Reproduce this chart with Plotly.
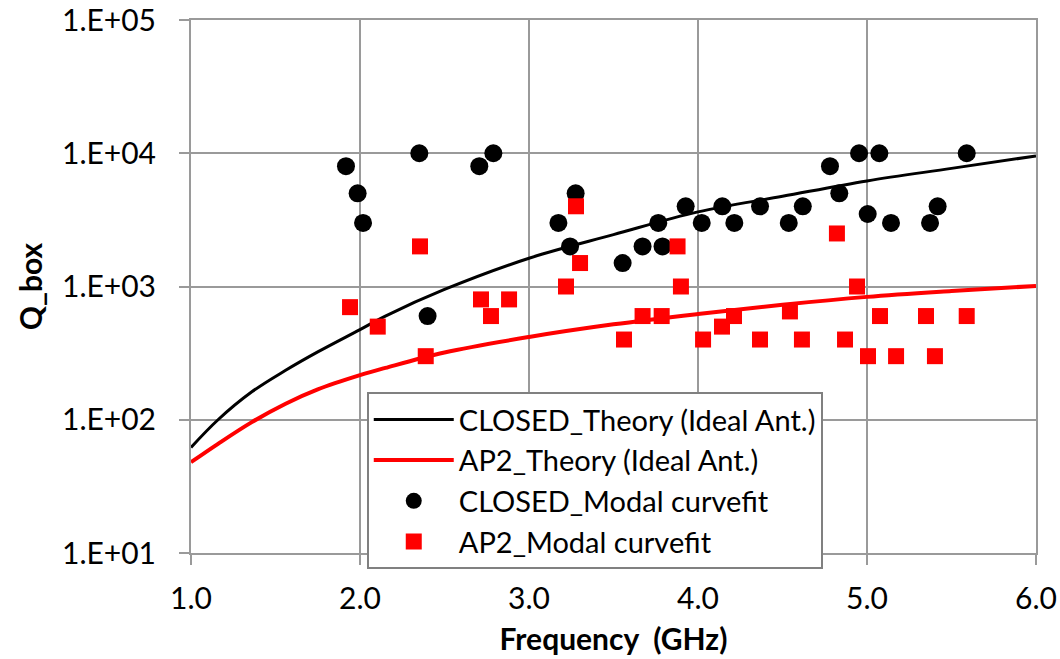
import plotly.graph_objects as go

# Theory curves
theory_f = [1.0, 1.16, 1.36, 1.56, 1.75, 2.0, 2.15, 2.5, 3.0, 3.5, 4.0, 4.5, 5.0, 5.5, 6.0]
closed_theory = [62, 100, 162, 235, 323, 475, 600, 950, 1630, 2450, 3630, 4750, 6200, 7700, 9550]
ap2_theory = [48, 66, 96, 132, 169, 216, 245, 320, 418, 520, 622, 730, 836, 925, 1010]

# Modal curvefit points
closed_f = [1.917, 1.986, 2.018, 2.351, 2.400, 2.706, 2.789, 3.174, 3.243, 3.276, 3.554, 3.672,
            3.765, 3.790, 3.927, 4.022, 4.144, 4.215, 4.367, 4.537, 4.620, 4.781, 4.836, 4.953,
            5.004, 5.073, 5.142, 5.373, 5.418, 5.590]
closed_q = [8000, 5000, 3000, 10000, 600, 8000, 10000, 3000, 2000, 5000, 1500, 2000,
            3000, 2000, 4000, 3000, 4000, 3000, 4000, 3000, 4000, 8000, 5000, 10000,
            3500, 10000, 3000, 3000, 4000, 10000]

ap2_f = [1.941, 2.105, 2.355, 2.389, 2.716, 2.775, 2.882, 3.219, 3.278, 3.302, 3.562, 3.672,
         3.785, 3.879, 3.899, 4.030, 4.142, 4.213, 4.367, 4.544, 4.615, 4.822, 4.870, 4.941,
         5.006, 5.077, 5.172, 5.349, 5.402, 5.590]
ap2_q = [700, 500, 2000, 300, 800, 600, 800, 1000, 4000, 1500, 400, 600,
         600, 2000, 1000, 400, 500, 600, 400, 650, 400, 2500, 400, 1000,
         300, 600, 300, 600, 300, 600]

y_tickvals = [10, 100, 1000, 10000, 100000]
y_ticktext = ["1.E+01", "1.E+02", "1.E+03", "1.E+04", "1.E+05"]
x_tickvals = [1, 2, 3, 4, 5, 6]
x_ticktext = ["1.0", "2.0", "3.0", "4.0", "5.0", "6.0"]

FONT = "Lato"
GRID = "#9a9a9a"

fig = go.Figure()
fig.add_trace(go.Scatter(x=theory_f, y=closed_theory, mode="lines", line_shape="spline",
                         name="CLOSED_Theory (Ideal Ant.)", line=dict(color="black", width=3)))
fig.add_trace(go.Scatter(x=theory_f, y=ap2_theory, mode="lines", line_shape="spline",
                         name="AP2_Theory (Ideal Ant.)", line=dict(color="#ff0000", width=4)))
fig.add_trace(go.Scatter(x=closed_f, y=closed_q, mode="markers", name="CLOSED_Modal curvefit",
                         marker=dict(symbol="circle", size=18, color="black")))
fig.add_trace(go.Scatter(x=ap2_f, y=ap2_q, mode="markers", name="AP2_Modal curvefit",
                         marker=dict(symbol="square", size=16, color="#ff0000")))

fig.update_layout(
    width=1060, height=659,
    margin=dict(l=191, r=24, t=20, b=106),
    paper_bgcolor="white", plot_bgcolor="white",
    font=dict(family=FONT, size=30, color="black"),
    showlegend=True,
    legend=dict(x=0.208, y=0.302, xanchor="left", yanchor="top",
                bgcolor="white", bordercolor="#808080", borderwidth=2,
                font=dict(family=FONT, size=29, color="black"),
                tracegroupgap=0, itemsizing="trace", itemwidth=80),
    xaxis=dict(range=[1, 6], tickvals=x_tickvals, ticktext=x_ticktext, automargin=False,
               showgrid=True, gridcolor=GRID, gridwidth=2,
               showline=True, linecolor=GRID, linewidth=2, mirror=True,
               ticks="outside", ticklen=10, tickwidth=2, tickcolor=GRID,
               ticklabelstandoff=8, ticklabeloverflow="allow",
               tickfont=dict(family=FONT, size=30), zeroline=False,
               title=dict(text="<b>Frequency  (GHz)</b>", font=dict(family=FONT, size=30), standoff=15)),
    yaxis=dict(type="log", range=[1, 5], tickvals=y_tickvals, ticktext=y_ticktext, automargin=False,
               showgrid=True, gridcolor=GRID, gridwidth=2,
               showline=True, linecolor=GRID, linewidth=2, mirror=True,
               ticks="outside", ticklen=10, tickwidth=2, tickcolor=GRID,
               ticklabelstandoff=17, ticklabeloverflow="allow",
               tickfont=dict(family=FONT, size=30), zeroline=False,
               title=dict(text="<b>Q_box</b>", font=dict(family=FONT, size=30), standoff=10)),
)

fig.write_html("out.html")
